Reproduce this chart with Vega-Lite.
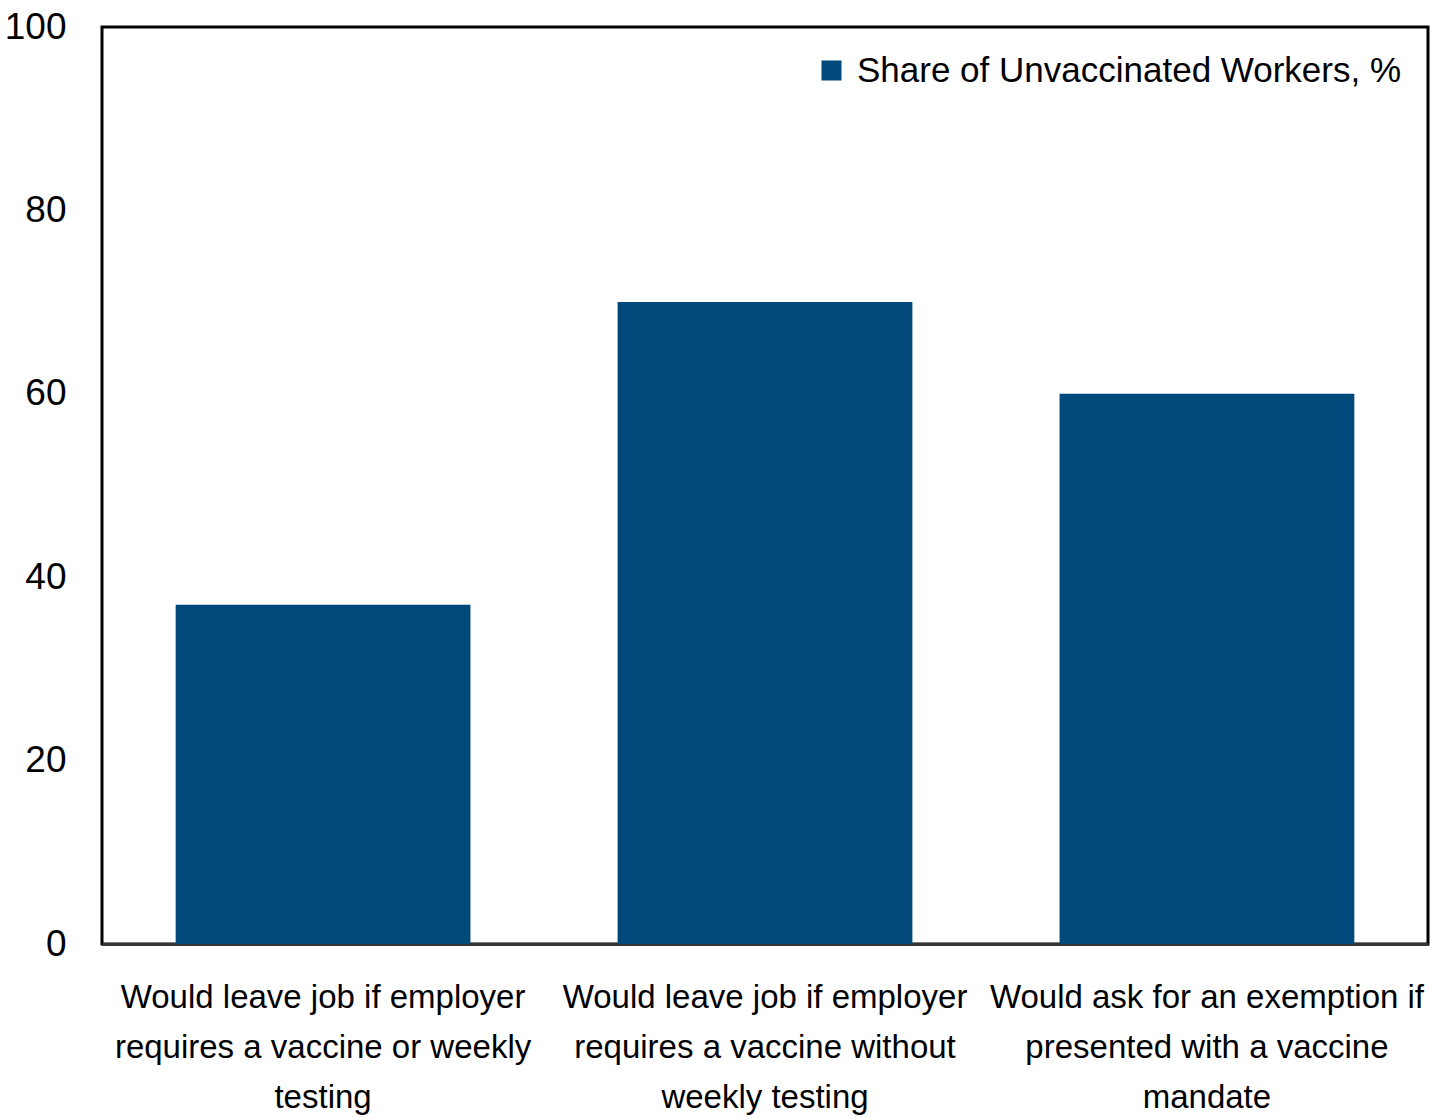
{
  "$schema": "https://vega.github.io/schema/vega-lite/v6.json",
  "autosize": {"type": "none"},
  "padding": {"left": 102, "top": 27, "right": 6, "bottom": 174},
  "width": 1326,
  "height": 917,
  "background": "white",
  "config": {
    "view": {"stroke": "black", "strokeWidth": 3},
    "font": "Liberation Sans, Arial, sans-serif"
  },
  "data": {
    "values": [
      {"category": "Would leave job if employer|requires a vaccine or weekly|testing", "value": 37, "series": "Share of Unvaccinated Workers, %"},
      {"category": "Would leave job if employer|requires a vaccine without|weekly testing", "value": 70, "series": "Share of Unvaccinated Workers, %"},
      {"category": "Would ask for an exemption if|presented with a vaccine|mandate", "value": 60, "series": "Share of Unvaccinated Workers, %"}
    ]
  },
  "mark": {"type": "bar"},
  "encoding": {
    "x": {
      "field": "category",
      "type": "nominal",
      "sort": null,
      "scale": {"paddingInner": 0.333, "paddingOuter": 0.1667},
      "axis": {
        "title": null,
        "labelAngle": 0,
        "labelExpr": "split(datum.label, '|')",
        "labelFont": "Liberation Sans, Arial, sans-serif",
        "labelFontSize": 33,
        "labelLineHeight": 50,
        "labelColor": "black",
        "labelPadding": 37,
        "labelLimit": 0,
        "ticks": false,
        "domain": true,
        "domainColor": "#333333",
        "domainWidth": 3
      }
    },
    "y": {
      "field": "value",
      "type": "quantitative",
      "scale": {"domain": [0, 100]},
      "axis": {
        "title": null,
        "values": [0, 20, 40, 60, 80, 100],
        "grid": false,
        "ticks": false,
        "domain": false,
        "labelFont": "Liberation Sans, Arial, sans-serif",
        "labelFontSize": 37,
        "labelColor": "black",
        "labelPadding": 36
      }
    },
    "color": {
      "field": "series",
      "type": "nominal",
      "scale": {"range": ["#01497A"]},
      "legend": {
        "title": null,
        "orient": "top-right",
        "offset": 26,
        "symbolType": "square",
        "symbolSize": 400,
        "symbolStrokeWidth": 0,
        "labelFont": "Liberation Sans, Arial, sans-serif",
        "labelFontSize": 35,
        "labelColor": "black",
        "labelLimit": 0,
        "labelOffset": 8
      }
    }
  }
}
